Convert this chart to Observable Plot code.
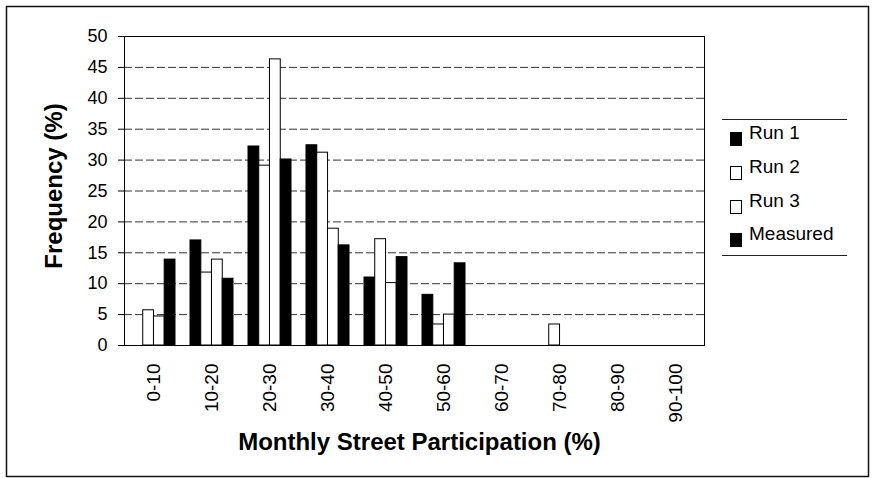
<!DOCTYPE html>
<html>
<head>
<meta charset="utf-8">
<script src="https://cdn.jsdelivr.net/npm/d3@7"></script>
<script src="https://cdn.jsdelivr.net/npm/@observablehq/plot@0.6"></script>
<style>
  body { margin: 0; background: #fff; }
</style>
</head>
<body>
<div id="chart"></div>
<script>
// ---- data ----
const categories = ["0-10", "10-20", "20-30", "30-40", "40-50", "50-60", "60-70", "70-80", "80-90", "90-100"];
const seriesNames = ["Run 1", "Run 2", "Run 3", "Measured"];
const seriesFills = ["black", "white", "white", "black"];
const run1     = [0,   17,   32.2, 32.4, 11.0, 8.2, 0, 0,   0, 0];
const run2     = [5.7, 11.8, 29.1, 31.2, 17.2, 3.4, 0, 3.4, 0, 0];
const run3     = [4.7, 13.9, 46.3, 18.9, 10.1, 5.0, 0, 0,   0, 0];
const measured = [13.9, 10.8, 30.1, 16.2, 14.3, 13.3, 0, 0, 0, 0];
const yTicks = [0, 5, 10, 15, 20, 25, 30, 35, 40, 45, 50];
const gridValues = [5, 10, 15, 20, 25, 30, 35, 40, 45];
const xTitle = "Monthly Street Participation (%)";
const yTitle = "Frequency (%)";

// ---- chart ----
const seriesValues = [run1, run2, run3, measured];
const W = 873, H = 478;
const mL = 124, mR = 169, mT = 36, mB = 133;
const pInner = 0.26, pOuter = 0.13;
const step = (W - mL - mR) / (categories.length - pInner + 2 * pOuter);
const quarter = step * (1 - pInner) / 4;

const barMarks = seriesValues.map((vals, i) =>
  Plot.barY(categories.map((c, j) => ({cat: c, value: vals[j]})), {
    x: "cat", y: "value",
    fill: seriesFills[i], stroke: "black", strokeWidth: 1,
    insetLeft: i * quarter, insetRight: (3 - i) * quarter
  })
);

const font = "'Liberation Sans', Arial, Helvetica, sans-serif";

const svg = Plot.plot({
  width: W, height: H,
  marginLeft: mL, marginRight: mR, marginTop: mT, marginBottom: mB,
  style: {fontFamily: font, background: "white", color: "black"},
  x: {domain: categories, paddingInner: pInner, paddingOuter: pOuter},
  y: {domain: [0, 50]},
  marks: [
    Plot.ruleY(gridValues, {stroke: "#333", strokeWidth: 1, strokeDasharray: "8,3"}),
    ...barMarks,
    Plot.frame({stroke: "black", strokeWidth: 1}),
    Plot.axisY({ticks: yTicks, tickSize: 6, tickPadding: 11, fontSize: 18, label: null, stroke: "black"}),
    Plot.axisX({tickRotate: -90, tickSize: 0, tickPadding: 18, fontSize: 19, label: null}),
    Plot.text([yTitle], {frameAnchor: "left", textAnchor: "middle", dx: -70, dy: -5, rotate: -90, fontSize: 24, fontWeight: "bold", fill: "black", text: d => d}),
    Plot.text([xTitle], {frameAnchor: "bottom", textAnchor: "middle", dx: 5, dy: 104, fontSize: 24, fontWeight: "bold", fill: "black", text: d => d})
  ]
});

const s = d3.select(svg);
// outer frame
s.append("rect")
  .attr("x", 6.5).attr("y", 6.5).attr("width", 862).attr("height", 470)
  .attr("fill", "none").attr("stroke", "#111").attr("stroke-width", 1.5);

// legend
const lg = s.append("g").attr("text-anchor", "start");
lg.append("line").attr("x1", 722).attr("x2", 847).attr("y1", 119.5).attr("y2", 119.5).attr("stroke", "#222");
lg.append("line").attr("x1", 722).attr("x2", 847).attr("y1", 255.5).attr("y2", 255.5).attr("stroke", "#222");
const baselines = [139, 173, 207, 240];
seriesNames.forEach((name, i) => {
  lg.append("rect")
    .attr("x", 730.5).attr("y", baselines[i] - 6.5).attr("width", 11).attr("height", 13)
    .attr("fill", seriesFills[i]).attr("stroke", "black");
  lg.append("text")
    .attr("x", 749).attr("y", baselines[i])
    .attr("text-anchor", "start")
    .attr("font-size", 19).attr("font-family", font).attr("fill", "black")
    .text(name);
});

document.getElementById("chart").appendChild(svg);
</script>
</body>
</html>
